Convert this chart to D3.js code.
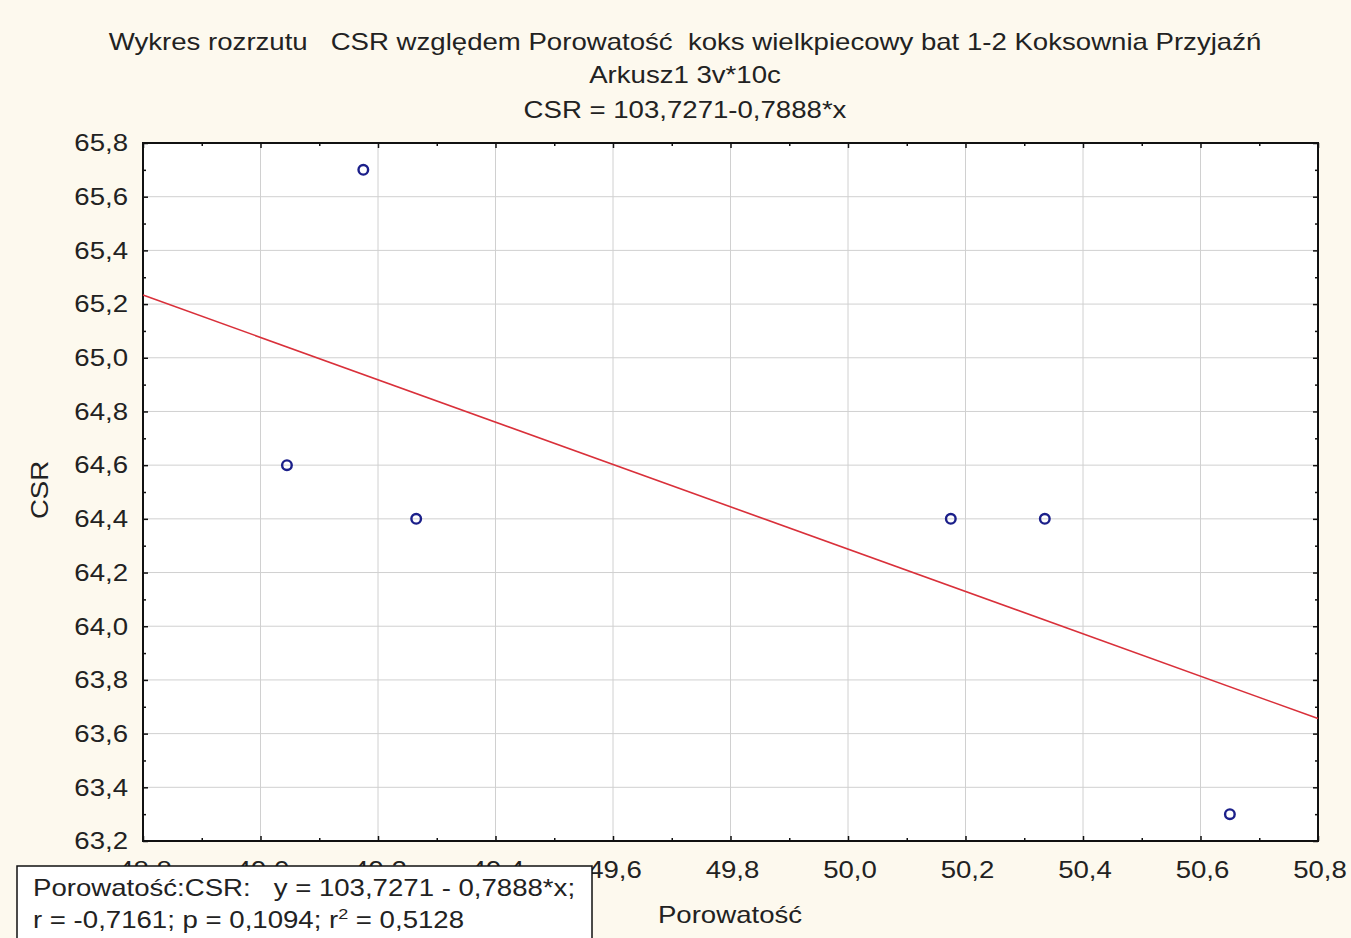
<!DOCTYPE html>
<html>
<head>
<meta charset="utf-8">
<script src="https://cdn.jsdelivr.net/npm/d3@7"></script>
<style>
  html, body { margin: 0; padding: 0; background: #fdf9ee; }
  svg { display: block; }
  text { font-family: "Liberation Sans", Arial, sans-serif; fill: #222; white-space: pre; }
</style>
</head>
<body>
<script>
// ---- data ----
const porowatosc = [49.045, 49.175, 49.265, 50.175, 50.335, 50.65];
const csr = [64.6, 65.7, 64.4, 64.4, 64.4, 63.3];
const intercept = 103.7271;
const slope = -0.7888;
const xTicks = [48.8, 49.0, 49.2, 49.4, 49.6, 49.8, 50.0, 50.2, 50.4, 50.6, 50.8];
const yTicks = [63.2, 63.4, 63.6, 63.8, 64.0, 64.2, 64.4, 64.6, 64.8, 65.0, 65.2, 65.4, 65.6, 65.8];
const titleLines = [
  "Wykres rozrzutu   CSR względem Porowatość  koks wielkpiecowy bat 1-2 Koksownia Przyjaźń",
  "Arkusz1 3v*10c",
  "CSR = 103,7271-0,7888*x"
];
const legendLine1 = "Porowatość:CSR:   y = 103,7271 - 0,7888*x;";
const xLabel = "Porowatość";
const yLabel = "CSR";

// ---- layout ----
const W = 1351, H = 938;
const L = 143, R = 1318, T = 143, B = 841;
const SX = 1.2; // horizontal stretch of the reference's lettering

const svg = d3.select("body").append("svg").attr("width", W).attr("height", H);
svg.append("rect").attr("width", W).attr("height", H).attr("fill", "#fdf9ee");

const x = d3.scaleLinear().domain([48.8, 50.8]).range([L, R]);
const y = d3.scaleLinear().domain([63.2, 65.8]).range([B, T]);
const fmt = d => d3.format(".1f")(d).replace(".", ",");
const place = (px, py, rot) => `translate(${px},${py})${rot ? ` rotate(${rot})` : ""} scale(${SX},1)`;

// plot background
svg.append("rect").attr("x", L).attr("y", T).attr("width", R - L).attr("height", B - T).attr("fill", "#fff");

// grid
svg.append("g").selectAll("line").data(xTicks.slice(1, -1)).join("line")
  .attr("x1", d => x(d)).attr("x2", d => x(d)).attr("y1", T).attr("y2", B)
  .attr("stroke", "#d0d0d0").attr("stroke-width", 1);
svg.append("g").selectAll("line").data(yTicks.slice(1, -1)).join("line")
  .attr("y1", d => y(d)).attr("y2", d => y(d)).attr("x1", L).attr("x2", R)
  .attr("stroke", "#d0d0d0").attr("stroke-width", 1);

// axes with inward ticks (major + minor)
const xMinor = d3.range(0, 10).map(i => 48.9 + i * 0.2);
const yMinor = d3.range(0, 13).map(i => 63.3 + i * 0.2);
function ticks(axisGen, scale, vals, size, transform) {
  const g = svg.append("g").attr("transform", transform)
    .call(axisGen(scale).tickValues(vals).tickSize(size).tickFormat(""));
  g.select(".domain").remove();
  g.selectAll("line").attr("stroke", "#111").attr("stroke-width", 1.5);
}
ticks(d3.axisTop, x, xTicks, 5, `translate(0,${B})`);
ticks(d3.axisTop, x, xMinor, 3, `translate(0,${B})`);
ticks(d3.axisBottom, x, xTicks, 5, `translate(0,${T})`);
ticks(d3.axisBottom, x, xMinor, 3, `translate(0,${T})`);
ticks(d3.axisRight, y, yTicks, 5, `translate(${L},0)`);
ticks(d3.axisRight, y, yMinor, 3, `translate(${L},0)`);
ticks(d3.axisLeft, y, yTicks, 5, `translate(${R},0)`);
ticks(d3.axisLeft, y, yMinor, 3, `translate(${R},0)`);

// frame
svg.append("rect").attr("x", L).attr("y", T).attr("width", R - L).attr("height", B - T)
  .attr("fill", "none").attr("stroke", "#111").attr("stroke-width", 2);

// tick labels
svg.append("g").selectAll("text").data(yTicks).join("text")
  .attr("transform", d => place(L - 15, y(d))).attr("dy", "0.36em")
  .attr("text-anchor", "end").attr("font-size", 23).text(fmt);
svg.append("g").selectAll("text").data(xTicks).join("text")
  .attr("transform", d => place(x(d) + 2, B + 29)).attr("dy", "0.36em")
  .attr("text-anchor", "middle").attr("font-size", 23).text(fmt);

// regression line
const lineData = x.domain().map(v => [v, intercept + slope * v]);
svg.append("path").datum(lineData)
  .attr("d", d3.line().x(d => x(d[0])).y(d => y(d[1])))
  .attr("fill", "none").attr("stroke", "#d9303a").attr("stroke-width", 1.6);

// points
svg.append("g").selectAll("circle").data(porowatosc.map((v, i) => [v, csr[i]])).join("circle")
  .attr("cx", d => x(d[0])).attr("cy", d => y(d[1])).attr("r", 4.8)
  .attr("fill", "none").attr("stroke", "#1b1f8a").attr("stroke-width", 2.4);

// title
svg.append("g").selectAll("text").data(titleLines).join("text")
  .attr("transform", (d, i) => place(685, [42, 75, 110][i])).attr("dy", "0.36em")
  .attr("text-anchor", "middle").attr("font-size", 23).text(d => d);

// axis labels
svg.append("text").attr("transform", place(730, 915)).attr("dy", "0.36em")
  .attr("text-anchor", "middle").attr("font-size", 23).text(xLabel);
svg.append("text").attr("transform", place(40, 490, -90)).attr("dy", "0.36em")
  .attr("text-anchor", "middle").attr("font-size", 23).text(yLabel);

// legend box
svg.append("rect").attr("x", 17).attr("y", 866).attr("width", 575).attr("height", 90)
  .attr("fill", "#fff").attr("stroke", "#111").attr("stroke-width", 1.5);
svg.append("text").attr("transform", place(33, 896)).attr("font-size", 23).text(legendLine1);
const l2 = svg.append("text").attr("transform", place(33, 928)).attr("font-size", 23);
l2.append("tspan").text("r = -0,7161; p = 0,1094; r");
l2.append("tspan").attr("dy", -9).attr("font-size", 15).text("2");
l2.append("tspan").attr("dy", 9).text(" = 0,5128");
</script>
</body>
</html>
